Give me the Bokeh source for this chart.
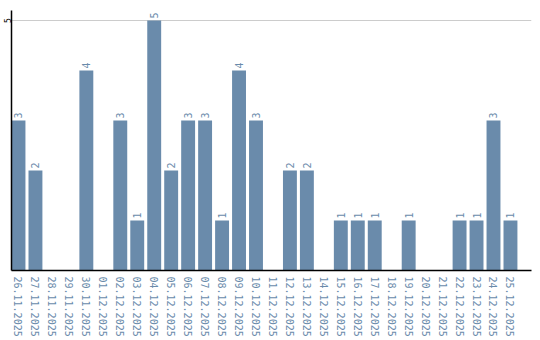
import math
from bokeh.plotting import figure
from bokeh.models import Range1d, FixedTicker, ColumnDataSource
from bokeh.core.properties import value
from bokeh.embed import file_html
from bokeh.resources import INLINE

dates = ["26.11.2025", "27.11.2025", "28.11.2025", "29.11.2025", "30.11.2025",
         "01.12.2025", "02.12.2025", "03.12.2025", "04.12.2025", "05.12.2025",
         "06.12.2025", "07.12.2025", "08.12.2025", "09.12.2025", "10.12.2025",
         "11.12.2025", "12.12.2025", "13.12.2025", "14.12.2025", "15.12.2025",
         "16.12.2025", "17.12.2025", "18.12.2025", "19.12.2025", "20.12.2025",
         "21.12.2025", "22.12.2025", "23.12.2025", "24.12.2025", "25.12.2025"]
counts = [3, 2, 0, 0, 4, 0, 3, 1, 5, 2, 3, 3, 1, 4, 3, 0, 2, 2, 0, 1,
          1, 1, 0, 1, 0, 0, 1, 1, 3, 1]
y_ticks = [5]

BAR = "#6a8bab"
FONT = "DejaVu Sans Mono"

xs = list(range(len(dates)))
src = ColumnDataSource(dict(x=xs, top=counts))
lbl = ColumnDataSource(dict(
    x=[x for x, c in zip(xs, counts) if c > 0],
    y=[c for c in counts if c > 0],
    t=[str(c) for c in counts if c > 0],
))

p = figure(width=540, height=340, output_backend="svg", toolbar_location=None,
           x_range=Range1d(-0.412, 30.24), y_range=Range1d(0, 5.2),
           min_border_left=0, min_border_right=9, min_border_top=10,
           min_border_bottom=70)
p.outline_line_color = None
p.background_fill_color = "white"
p.border_fill_color = "white"

p.vbar(x="x", top="top", bottom=0, width=0.82, source=src,
       fill_color=BAR, line_color=None)

p.text(x="x", y="y", text="t", source=lbl, angle=math.pi / 2,
       text_align="left", text_baseline="middle", y_offset=-2,
       text_font=value(FONT), text_font_size="10px", text_color=BAR)

p.xaxis.ticker = FixedTicker(ticks=xs)
p.xaxis.major_label_overrides = {i: d for i, d in enumerate(dates)}
p.xaxis.major_label_orientation = "vertical"
p.xaxis.major_label_text_font = FONT
p.xaxis.major_label_text_font_size = "10px"
p.xaxis.major_label_text_color = BAR
p.xaxis.major_tick_out = 0
p.xaxis.major_tick_in = 0
p.xaxis.minor_tick_out = 0
p.xaxis.minor_tick_in = 0
p.xaxis.major_tick_line_color = None
p.xaxis.minor_tick_line_color = None
p.xaxis.major_label_standoff = 6
p.xaxis.axis_line_color = "black"
p.xaxis.axis_line_width = 1.5

p.yaxis.ticker = FixedTicker(ticks=y_ticks)
p.yaxis.major_label_orientation = "vertical"
p.yaxis.major_label_text_font = FONT
p.yaxis.major_label_text_font_size = "8px"
p.yaxis.major_label_text_color = "black"
p.yaxis.major_tick_out = 0
p.yaxis.major_tick_in = 0
p.yaxis.minor_tick_out = 0
p.yaxis.minor_tick_in = 0
p.yaxis.major_tick_line_color = None
p.yaxis.minor_tick_line_color = None
p.yaxis.major_label_standoff = 1
p.yaxis.axis_line_color = "black"
p.yaxis.axis_line_width = 1.5

p.xgrid.grid_line_color = None
p.ygrid.ticker = FixedTicker(ticks=y_ticks)
p.ygrid.grid_line_color = "#cccccc"
p.ygrid.grid_line_width = 1

open("out.html", "w").write(file_html(p, INLINE))
